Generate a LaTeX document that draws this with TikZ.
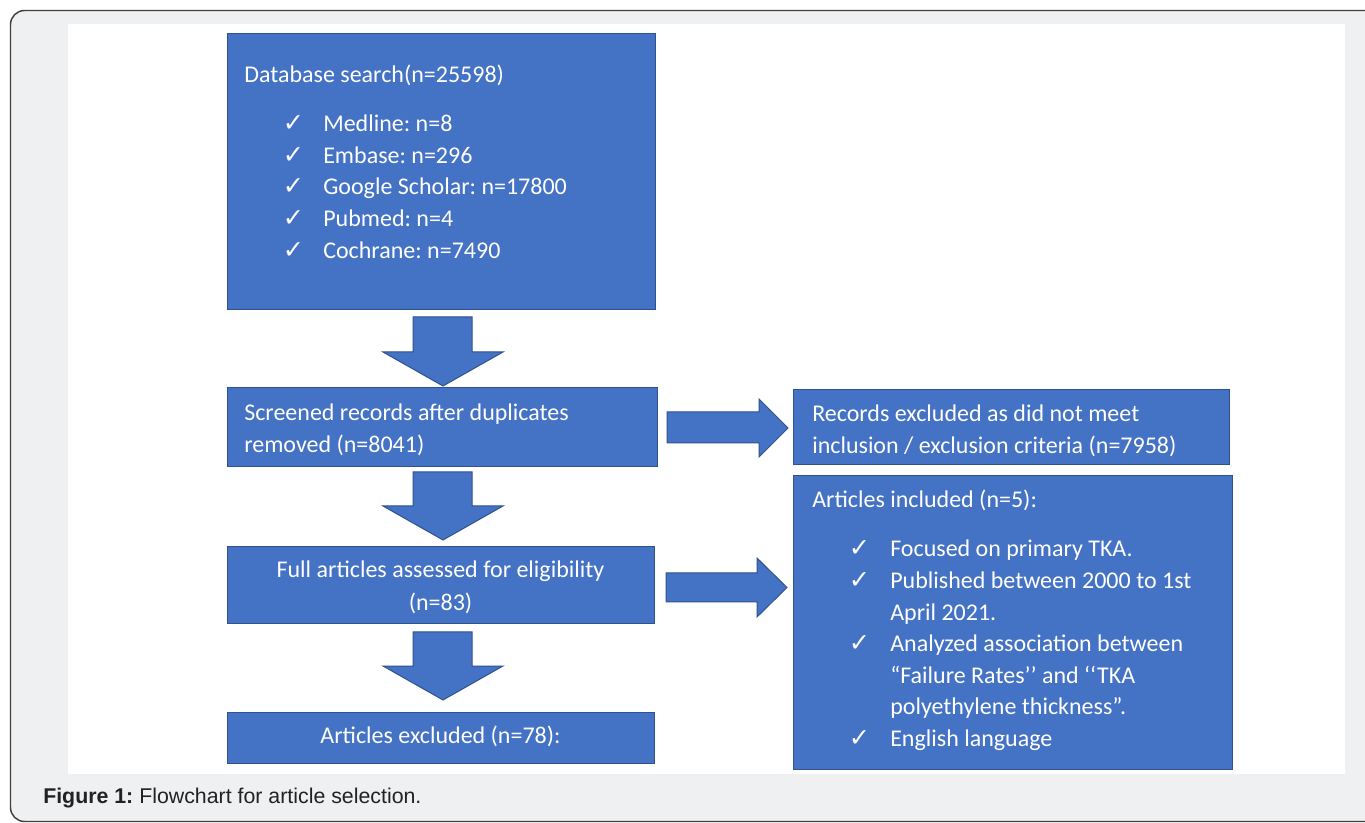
\documentclass[tikz,border=0pt]{standalone}
\usepackage{fontspec}
\setmainfont{Carlito}
\newfontfamily\tickfont{DejaVu Sans}
\newfontfamily\capfont{Liberation Sans}
\frenchspacing
\begin{document}
\begin{tikzpicture}[x=0.75pt,y=0.75pt,yscale=-1,xscale=1,
	flowbox/.style={draw={rgb, 255:red, 47; green, 82; blue, 143 },fill={rgb, 255:red, 68; green, 114; blue, 196 },line width=0.75pt},
	boxtext/.style={inner sep=0pt,text={rgb, 255:red, 255; green, 255; blue, 255 },font=\fontsize{18}{22}\selectfont},
	tick/.style={inner sep=0pt,text={rgb, 255:red, 255; green, 255; blue, 255 },font=\tickfont\fontsize{19}{22}\selectfont}]
			\useasboundingbox (0,0) rectangle (1365,823);
			\clip (0,0) rectangle (1365,823);
			
			%Shape: Rounded Rect [frame]
			\draw [color={rgb, 255:red, 64; green, 64; blue, 64 }  ,fill={rgb, 255:red, 239; green, 240; blue, 242 } ,line width=1.1pt ,rounded corners=10.5pt] (10.5,10.5) rectangle (1395,821.5) ;
			%Shape: Rectangle [paper]
			\fill [white] (68,24) rectangle (1345,774) ;
			
			%Shape: Rectangle [db]
			\draw [flowbox] (227,34) rectangle (655,310) ;
			%Shape: Rectangle [scr]
			\draw [flowbox] (227,388) rectangle (657,467) ;
			%Shape: Rectangle [full]
			\draw [flowbox] (227,547) rectangle (654,624) ;
			%Shape: Rectangle [excl]
			\draw [flowbox] (227,712) rectangle (654,763) ;
			%Shape: Rectangle [rec]
			\draw [flowbox] (793,390) rectangle (1229,465) ;
			%Shape: Rectangle [incl]
			\draw [flowbox] (793,476) rectangle (1232,769) ;
			
			%Shape: Down Arrow [db to scr]
			\draw [flowbox] (413,317) -- (472,317) -- (472,352) -- (503,352) -- (443,386) -- (383,352) -- (413,352) -- cycle ;
			%Shape: Down Arrow [scr to full]
			\draw [flowbox] (413,472) -- (472,472) -- (472,506) -- (503,506) -- (443,540) -- (383,506) -- (413,506) -- cycle ;
			%Shape: Down Arrow [full to excl]
			\draw [flowbox] (413,632) -- (472,632) -- (472,666) -- (503,666) -- (443,700) -- (383,666) -- (413,666) -- cycle ;
			%Shape: Right Arrow [scr to rec]
			\draw [flowbox] (667,412) -- (759,412) -- (759,399) -- (788,428) -- (759,457) -- (759,443) -- (667,443) -- cycle ;
			%Shape: Right Arrow [full to incl]
			\draw [flowbox] (666,573) -- (757,573) -- (757,558) -- (787,587.5) -- (757,617) -- (757,602) -- (666,602) -- cycle ;
			
			% Text Node
			\node [boxtext, anchor=base west] (dbhead) at (244,83) {Database search(n=25598)};
			% Text Node
			\node [tick, anchor=base] (dbtick1) at (293.5,132) {✓};
			\node [boxtext, anchor=base west] (dbitem1) at (323,132) {Medline: n=8};
			% Text Node
			\node [tick, anchor=base] (dbtick2) at (293.5,163.5) {✓};
			\node [boxtext, anchor=base west] (dbitem2) at (323,163.5) {Embase: n=296};
			% Text Node
			\node [tick, anchor=base] (dbtick3) at (293.5,195) {✓};
			\node [boxtext, anchor=base west] (dbitem3) at (323,195) {Google Scholar: n=17800};
			% Text Node
			\node [tick, anchor=base] (dbtick4) at (293.5,227) {✓};
			\node [boxtext, anchor=base west] (dbitem4) at (323,227) {Pubmed: n=4};
			% Text Node
			\node [tick, anchor=base] (dbtick5) at (293.5,258.5) {✓};
			\node [boxtext, anchor=base west] (dbitem5) at (323,258.5) {Cochrane: n=7490};
			
			% Text Node
			\node [boxtext, anchor=base west] (scrline1) at (244,421) {Screened records after duplicates};
			\node [boxtext, anchor=base west] (scrline2) at (244,453) {removed (n=8041)};
			% Text Node
			\node [boxtext, anchor=base] (fullline1) at (440.5,578) {Full articles assessed for eligibility};
			\node [boxtext, anchor=base] (fullline2) at (440.5,610) {(n=83)};
			% Text Node
			\node [boxtext, anchor=base] (exclline) at (440.5,743) {Articles excluded (n=78):};
			
			% Text Node
			\node [boxtext, anchor=base west] (recline1) at (812,422) {Records excluded as did not meet};
			\node [boxtext, anchor=base west] (recline2) at (812,453.5) {inclusion / exclusion criteria (n=7958)};
			
			% Text Node
			\node [boxtext, anchor=base west] (inclhead) at (812,508) {Articles included (n=5):};
			% Text Node
			\node [tick, anchor=base] (incltick1) at (859.5,557) {✓};
			\node [boxtext, anchor=base west] (inclitem1) at (890,557) {Focused on primary TKA.};
			% Text Node
			\node [tick, anchor=base] (incltick2) at (859.5,588.5) {✓};
			\node [boxtext, anchor=base west] (inclitem2a) at (890,588.5) {Published between 2000 to 1st};
			\node [boxtext, anchor=base west] (inclitem2b) at (890,620) {April 2021.};
			% Text Node
			\node [tick, anchor=base] (incltick3) at (859.5,651.5) {✓};
			\node [boxtext, anchor=base west] (inclitem3a) at (890,651.5) {Analyzed association between};
			\node [boxtext, anchor=base west] (inclitem3b) at (890,683) {“Failure Rates’’ and ‘‘TKA};
			\node [boxtext, anchor=base west] (inclitem3c) at (890,714.5) {polyethylene thickness”.};
			% Text Node
			\node [tick, anchor=base] (incltick4) at (859.5,746) {✓};
			\node [boxtext, anchor=base west] (inclitem4) at (890,746) {English language};
			
			% Text Node
			\node [anchor=base west, inner sep=0pt, text={rgb, 255:red, 34; green, 34; blue, 34 }, font=\capfont\fontsize{16}{19}\selectfont] (caption) at (43,803) {\textbf{Figure 1:} Flowchart for article selection.};
			
		\end{tikzpicture}
\end{document}
